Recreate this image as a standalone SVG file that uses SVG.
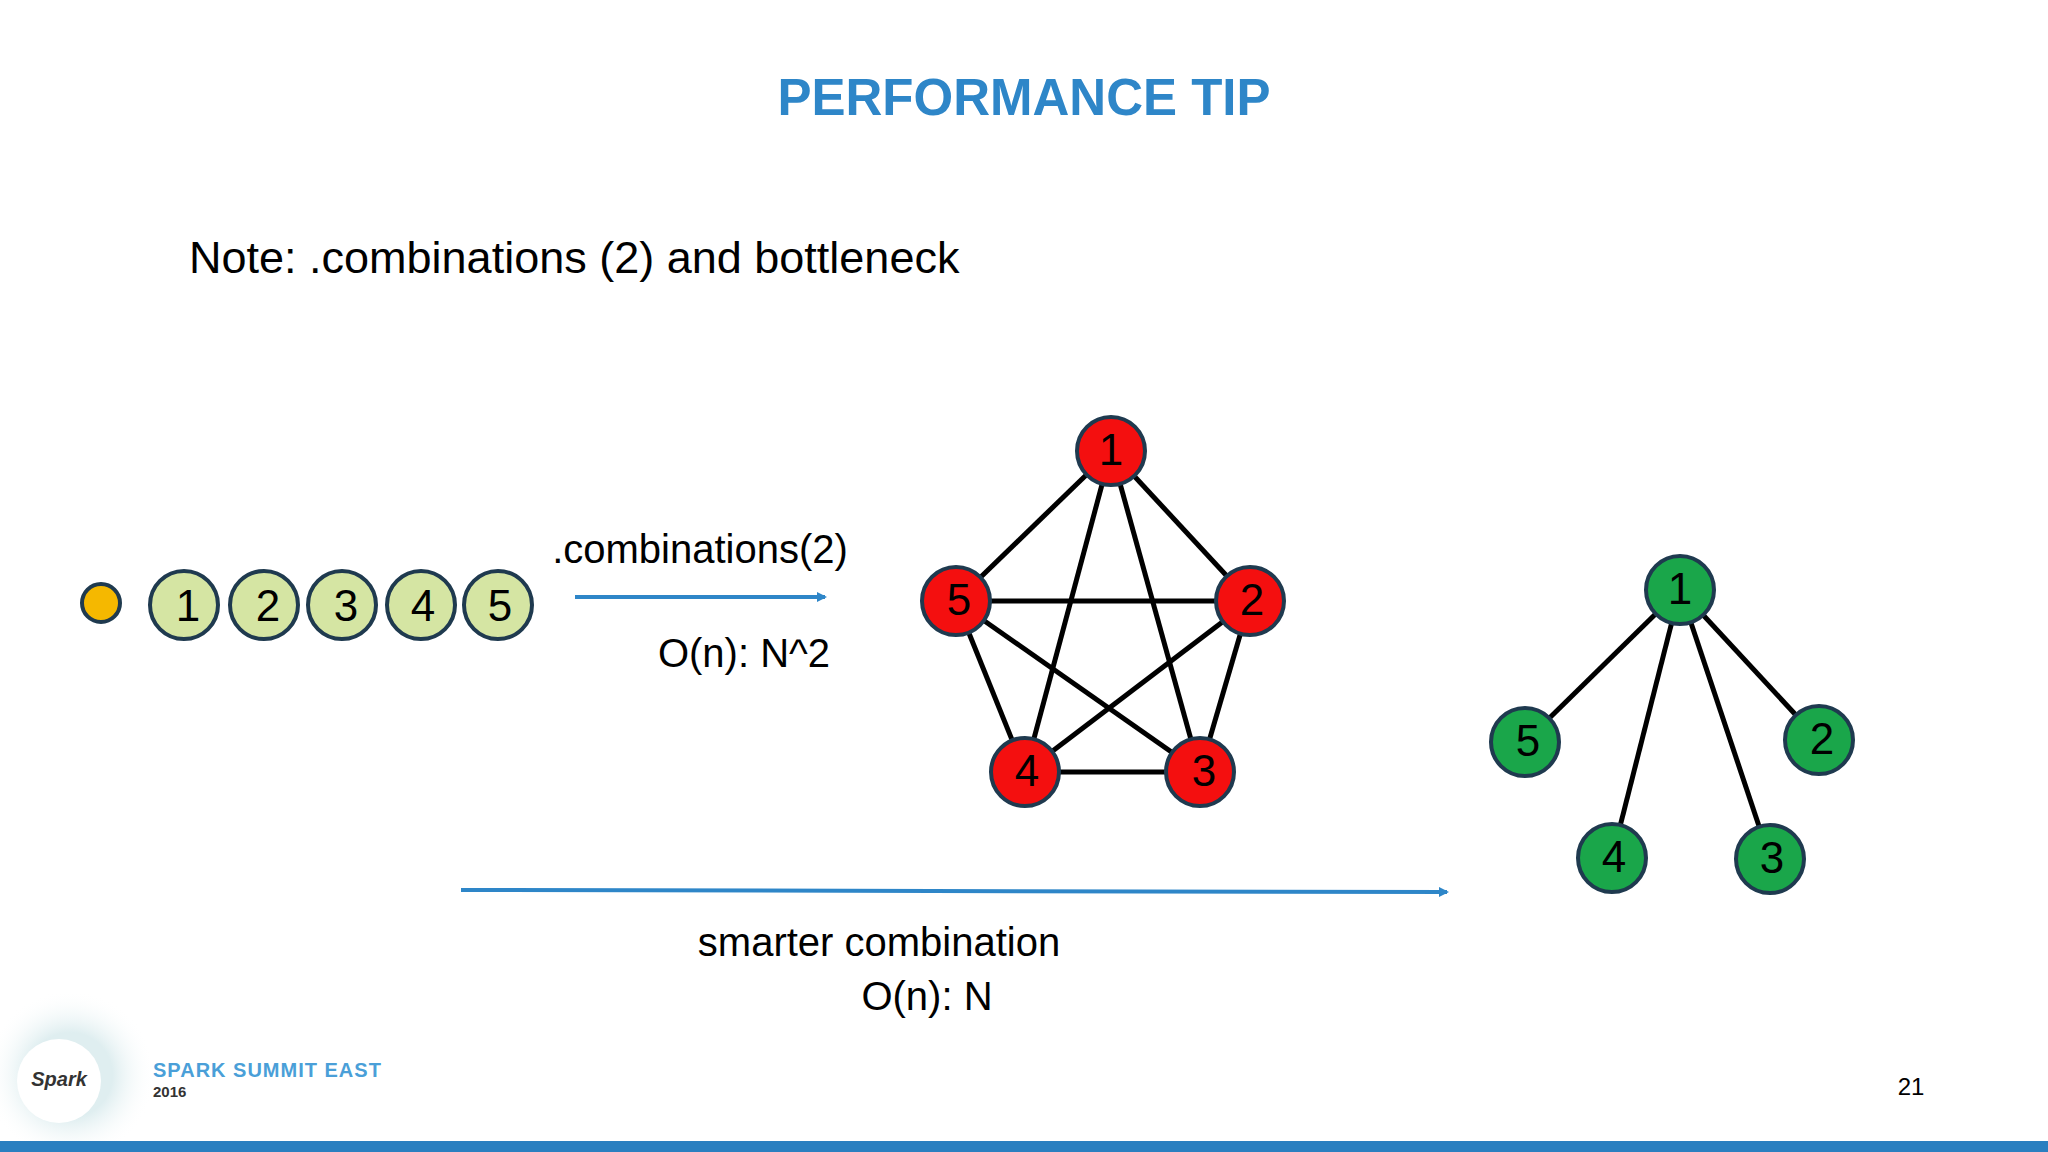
<svg xmlns="http://www.w3.org/2000/svg" width="2048" height="1152" viewBox="0 0 2048 1152">
<style>
text{font-family:"Liberation Sans",Arial,sans-serif}
.c{stroke:#1f3a4f;stroke-width:4}
.lg{fill:#d5e5a3}.rd{fill:#f40f0f}.gr{fill:#1aa64a}
.e{stroke:#000;stroke-width:5}
.nt{font-size:44px;text-anchor:middle;fill:#000}
.lb{font-size:40px;fill:#000;text-anchor:middle}
.ar{stroke:#2e86c8;stroke-width:4;fill:none}
</style>
<defs><marker id="ah" markerWidth="10" markerHeight="10" refX="8" refY="5" orient="auto" markerUnits="userSpaceOnUse"><path d="M0,0 L10,5 L0,10 z" fill="#2e86c8"/></marker>
<radialGradient id="glow"><stop offset="0.5" stop-color="#dfeef0"/><stop offset="1" stop-color="#fff" stop-opacity="0"/></radialGradient></defs>
<rect width="2048" height="1152" fill="#fff"/>
<text x="1024" y="115" font-size="51" font-weight="bold" fill="#2e86c8" text-anchor="middle">PERFORMANCE TIP</text>
<text x="189" y="273" font-size="45" fill="#000">Note: .combinations (2) and bottleneck</text>
<g id="list">
<circle cx="101" cy="603" r="19" fill="#f5b800" class="c"/>
<g id="l1"><circle cx="184" cy="605" r="34" class="c lg"/><text x="188" y="621" class="nt">1</text></g>
<g id="l2"><circle cx="264" cy="605" r="34" class="c lg"/><text x="268" y="621" class="nt">2</text></g>
<g id="l3"><circle cx="342" cy="605" r="34" class="c lg"/><text x="346" y="621" class="nt">3</text></g>
<g id="l4"><circle cx="421" cy="605" r="34" class="c lg"/><text x="423" y="621" class="nt">4</text></g>
<g id="l5"><circle cx="498" cy="605" r="34" class="c lg"/><text x="500" y="621" class="nt">5</text></g>
</g>
<g id="connectors">
<line x1="575" y1="597" x2="825" y2="597" class="ar" marker-end="url(#ah)"/>
<line x1="461" y1="890" x2="1447" y2="892" class="ar" marker-end="url(#ah)"/>
<g class="e">
<line x1="1111" y1="451" x2="1250" y2="601"/><line x1="1111" y1="451" x2="1200" y2="772"/>
<line x1="1111" y1="451" x2="1025" y2="772"/><line x1="1111" y1="451" x2="956" y2="601"/>
<line x1="1250" y1="601" x2="1200" y2="772"/><line x1="1250" y1="601" x2="1025" y2="772"/>
<line x1="1250" y1="601" x2="956" y2="601"/><line x1="1200" y1="772" x2="1025" y2="772"/>
<line x1="1200" y1="772" x2="956" y2="601"/><line x1="1025" y1="772" x2="956" y2="601"/>
<line x1="1680" y1="590" x2="1819" y2="740"/><line x1="1680" y1="590" x2="1770" y2="859"/>
<line x1="1680" y1="590" x2="1612" y2="858"/><line x1="1680" y1="590" x2="1525" y2="742"/>
</g>
</g>
<text x="700" y="563" class="lb">.combinations(2)</text>
<text x="744" y="667" class="lb">O(n): N^2</text>
<text x="879" y="956" class="lb">smarter combination</text>
<text x="927" y="1010" class="lb">O(n): N</text>
<g id="r1"><circle cx="1111" cy="451" r="34" class="c rd"/><text x="1111" y="465" class="nt" font-size="36">1</text></g>
<g id="r2"><circle cx="1250" cy="601" r="34" class="c rd"/><text x="1252" y="615" class="nt" font-size="36">2</text></g>
<g id="r3"><circle cx="1200" cy="772" r="34" class="c rd"/><text x="1204" y="786" class="nt" font-size="36">3</text></g>
<g id="r4"><circle cx="1025" cy="772" r="34" class="c rd"/><text x="1027" y="786" class="nt" font-size="36">4</text></g>
<g id="r5"><circle cx="956" cy="601" r="34" class="c rd"/><text x="959" y="615" class="nt" font-size="36">5</text></g>
<g id="g1"><circle cx="1680" cy="590" r="34" class="c gr"/><text x="1680" y="604" class="nt" font-size="36">1</text></g>
<g id="g2"><circle cx="1819" cy="740" r="34" class="c gr"/><text x="1822" y="754" class="nt" font-size="36">2</text></g>
<g id="g3"><circle cx="1770" cy="859" r="34" class="c gr"/><text x="1772" y="873" class="nt" font-size="36">3</text></g>
<g id="g4"><circle cx="1612" cy="858" r="34" class="c gr"/><text x="1614" y="872" class="nt" font-size="36">4</text></g>
<g id="g5"><circle cx="1525" cy="742" r="34" class="c gr"/><text x="1528" y="756" class="nt" font-size="36">5</text></g>
<circle cx="70" cy="1075" r="85" fill="url(#glow)"/>
<circle cx="59" cy="1081" r="42" fill="#fff"/>
<text x="59" y="1086" font-size="20" font-style="italic" font-weight="bold" fill="#333" text-anchor="middle">Spark</text>
<text x="153" y="1077" font-size="20" font-weight="bold" fill="#4a9fd8" letter-spacing="1">SPARK SUMMIT EAST</text>
<text x="153" y="1097" font-size="15" font-weight="bold" fill="#333">2016</text>
<text x="1911" y="1095" font-size="24" fill="#000" text-anchor="middle">21</text>
<rect x="0" y="1141" width="2048" height="11" fill="#2a7fc0"/>
</svg>
